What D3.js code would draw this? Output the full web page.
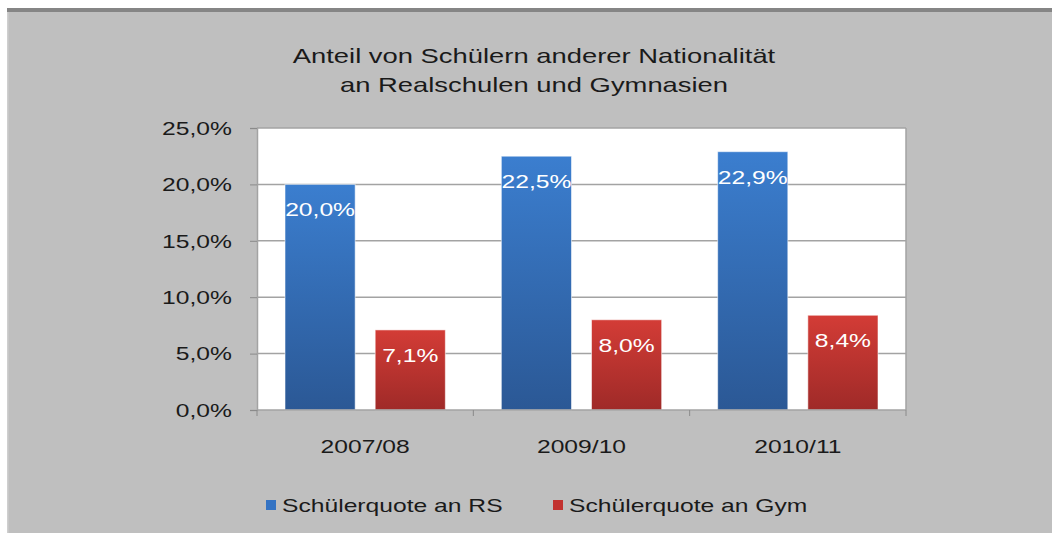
<!DOCTYPE html>
<html>
<head>
<meta charset="utf-8">
<script src="https://cdn.jsdelivr.net/npm/d3@7"></script>
<style>
  html, body { margin: 0; padding: 0; background: #ffffff; overflow: hidden; }
  svg { display: block; font-family: "Liberation Sans", Arial, sans-serif; }
</style>
</head>
<body>
<div id="chart"></div>
<script>
/* ── data ─────────────────────────────────────────── */
const titleLines = ['Anteil von Schülern anderer Nationalität', 'an Realschulen und Gymnasien'];
const categories = ['2007/08', '2009/10', '2010/11'];
const seriesNames = ['Schülerquote an RS', 'Schülerquote an Gym'];
const rsValues  = [20.0, 22.5, 22.9];
const gymValues = [7.1, 8.0, 8.4];
const yTicks = [0, 5, 10, 15, 20, 25];

/* ── setup ────────────────────────────────────────── */
const W = 1052, H = 533;
const SX = 1.37; // the source image is stretched horizontally
const plot = { left: 257, right: 906, top: 128, bottom: 410 };

const de = d3.formatLocale({ decimal: ',', thousands: '.', grouping: [3], currency: ['', '€'] });
const pct = v => de.format('.1f')(v) + '%';

const svg = d3.select('#chart').append('svg')
  .attr('width', W).attr('height', H);

const defs = svg.append('defs');
function grad(id, top, bottom) {
  const g = defs.append('linearGradient').attr('id', id)
    .attr('x1', 0).attr('y1', 0).attr('x2', 0).attr('y2', 1);
  g.append('stop').attr('offset', '0%').attr('stop-color', top);
  g.append('stop').attr('offset', '100%').attr('stop-color', bottom);
}
grad('gRS', '#3b7ecf', '#2b5895');
grad('gGym', '#d33c36', '#9f2a28');
const fills = ['url(#gRS)', 'url(#gGym)'];
const swatch = ['#3473c3', '#c2322f'];

// stretched text helper
function label(sel, x, y, txt, opts = {}) {
  return sel.append('text')
    .attr('transform', `translate(${x},${y}) scale(${SX},1)`)
    .attr('text-anchor', opts.anchor || 'middle')
    .attr('font-size', opts.size || 18)
    .attr('fill', opts.fill || '#1a1a1a')
    .text(txt);
}

/* ── frame ────────────────────────────────────────── */
svg.append('rect').attr('x', 7).attr('y', 8).attr('width', W - 7).attr('height', H - 8)
  .attr('fill', '#bfbfbf');
svg.append('rect').attr('x', 7).attr('y', 8).attr('width', W - 7).attr('height', 4)
  .attr('fill', '#858585');
svg.append('rect').attr('x', 7).attr('y', 12).attr('width', 1.5).attr('height', H - 12)
  .attr('fill', '#cfcfcf');

/* ── title ────────────────────────────────────────── */
titleLines.forEach((t, i) => label(svg, 534, 63 + i * 29, t, { size: 20 }));

/* ── scales ───────────────────────────────────────── */
const x = d3.scaleBand().domain(categories).range([plot.left, plot.right]);
const x1 = d3.scaleBand().domain(seriesNames)
  .range([28, x.bandwidth() - 28]).paddingInner(0.222);
const y = d3.scaleLinear().domain([0, 25]).range([plot.bottom, plot.top]);

/* ── plot area + grid ─────────────────────────────── */
svg.append('rect')
  .attr('x', plot.left).attr('y', plot.top)
  .attr('width', plot.right - plot.left).attr('height', plot.bottom - plot.top)
  .attr('fill', '#ffffff');

svg.append('g')
  .selectAll('line')
  .data(yTicks.filter(d => d > 0))
  .join('line')
  .attr('x1', plot.left).attr('x2', plot.right)
  .attr('y1', d => y(d)).attr('y2', d => y(d))
  .attr('stroke', '#a3a3a3').attr('stroke-width', 1.5);

svg.append('line')
  .attr('x1', plot.right).attr('x2', plot.right)
  .attr('y1', plot.top).attr('y2', plot.bottom)
  .attr('stroke', '#a3a3a3').attr('stroke-width', 1.5);

/* ── y axis ───────────────────────────────────────── */
const yAxis = svg.append('g')
  .attr('transform', `translate(${plot.left},0)`)
  .call(d3.axisLeft(y).tickValues(yTicks).tickSize(7).tickFormat(pct));
yAxis.select('.domain').attr('stroke', '#a3a3a3').attr('stroke-width', 1.5);
yAxis.selectAll('.tick line').attr('stroke', '#8a8a8a');
yAxis.selectAll('.tick text')
  .attr('x', null).attr('dy', null)
  .attr('transform', `translate(-25,0) scale(${SX},1)`)
  .attr('dominant-baseline', 'central')
  .attr('font-family', null)
  .attr('font-size', 18)
  .attr('fill', '#1a1a1a');

/* ── bars ─────────────────────────────────────────── */
const rows = categories.map((c, i) => ({ cat: c, vals: [rsValues[i], gymValues[i]] }));

const groups = svg.append('g')
  .selectAll('g')
  .data(rows)
  .join('g')
  .attr('transform', d => `translate(${x(d.cat)},0)`);

groups.selectAll('rect')
  .data(d => d.vals.map((v, k) => ({ v, k, s: seriesNames[k] })))
  .join('rect')
  .attr('x', d => x1(d.s))
  .attr('y', d => y(d.v))
  .attr('width', x1.bandwidth())
  .attr('height', d => y(0) - y(d.v))
  .attr('fill', d => fills[d.k])
  .attr('stroke', 'rgba(255,255,255,0.55)')
  .attr('stroke-width', 1);

groups.each(function (d) {
  const g = d3.select(this);
  d.vals.forEach((v, k) => {
    label(g, x1(seriesNames[k]) + x1.bandwidth() / 2, y(v) + 32, pct(v), { fill: '#ffffff' });
  });
});

/* ── x axis ───────────────────────────────────────── */
svg.append('line')
  .attr('x1', plot.left).attr('x2', plot.right)
  .attr('y1', plot.bottom).attr('y2', plot.bottom)
  .attr('stroke', '#a3a3a3').attr('stroke-width', 1.5);

const bounds = categories.map(c => x(c)).concat([x.range()[1]]);
svg.append('g').selectAll('line')
  .data(bounds)
  .join('line')
  .attr('x1', d => d).attr('x2', d => d)
  .attr('y1', plot.bottom).attr('y2', plot.bottom + 6)
  .attr('stroke', '#8a8a8a');

categories.forEach(c => label(svg, x(c) + x.bandwidth() / 2, 453, c));

/* ── legend ───────────────────────────────────────── */
const legendX = [266, 553];
seriesNames.forEach((s, k) => {
  svg.append('rect')
    .attr('x', legendX[k]).attr('y', 500)
    .attr('width', 10).attr('height', 10)
    .attr('fill', swatch[k]);
  label(svg, legendX[k] + 16, 512, s, { anchor: 'start' });
});
</script>
</body>
</html>
